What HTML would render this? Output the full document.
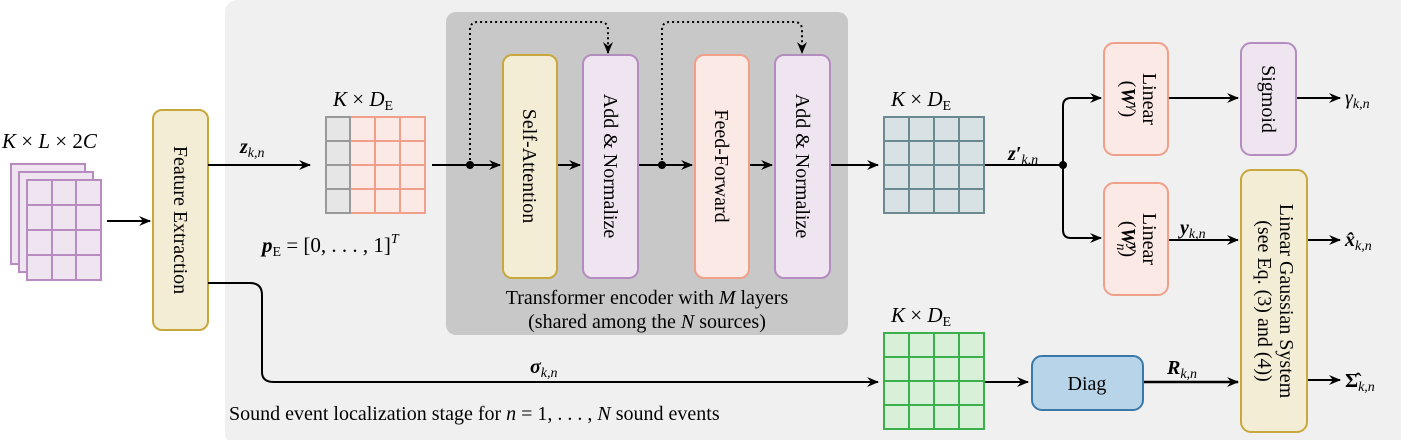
<!DOCTYPE html><html><head><style>body{margin:0;background:#fff}svg{display:block;font-family:"Liberation Serif",serif}</style></head><body>
<svg width="1401" height="440" viewBox="0 0 1401 440" xmlns="http://www.w3.org/2000/svg">
<defs><marker id="a" markerWidth="12" markerHeight="10" refX="11" refY="5" orient="auto" markerUnits="userSpaceOnUse"><path d="M0,0 L12,5 L0,10 L4,5z" fill="#000"/></marker>
<pattern id="g" width="25" height="24" patternUnits="userSpaceOnUse"><path d="M0,0H25M0,0V24" fill="none"/></pattern></defs>
<rect x="225" y="0" width="1190" height="445" rx="12" fill="#f0f0f0"/>
<rect x="446" y="12" width="402" height="323" rx="10" fill="#c8c8c8"/>
<g font-size="21">
<text x="2" y="148" font-style="italic">K <tspan font-style="normal">× </tspan>L<tspan font-style="normal"> × 2</tspan>C</text>
</g>
<!-- input stack -->
<g stroke="#b88cc0" stroke-width="2" fill="#efe5f0">
<rect x="11" y="164" width="74" height="100"/><rect x="19" y="172" width="74" height="100"/><rect x="27" y="180" width="74" height="100"/>
<path d="M52,180V280M76,180V280M27,205H101M27,230H101M27,255H101" fill="none"/>
</g>
<line x1="107" y1="221" x2="150" y2="221" stroke="#000" stroke-width="2" marker-end="url(#a)"/>
<rect x="153" y="110" width="55" height="220" rx="9" fill="#f3edd6" stroke="#c8a83c" stroke-width="2"/>
<text transform="translate(174,220) rotate(90)" font-size="20" text-anchor="middle">Feature Extraction</text>
<line x1="208" y1="165" x2="310" y2="165" stroke="#000" stroke-width="2" marker-end="url(#a)"/>
<text x="240" y="153" font-size="20" font-weight="bold" font-style="italic">z<tspan font-size="14" font-weight="normal" dy="4">k,n</tspan></text>
<!-- matrix 1 -->
<rect x="350" y="117" width="75" height="96" fill="#fbe9e6" stroke="#f0a08a" stroke-width="2"/>
<path d="M375,117V213M400,117V213M350,141H425M350,165H425M350,189H425" stroke="#f0a08a" stroke-width="2"/>
<rect x="326" y="117" width="24" height="96" fill="#e6e6e6" stroke="#999" stroke-width="2"/>
<path d="M326,141H350M326,165H350M326,189H350" stroke="#999" stroke-width="2"/>
<text x="333" y="106" font-size="21" font-style="italic">K <tspan font-style="normal">× </tspan>D<tspan font-size="14" font-style="normal" dy="4">E</tspan></text>
<text x="262" y="252" font-size="21"><tspan font-weight="bold" font-style="italic">p</tspan><tspan font-size="14" dy="4">E</tspan><tspan dy="-4"> = [0, . . . , 1]</tspan><tspan font-size="14" dy="-9" font-style="italic">T</tspan></text>
<!-- transformer -->
<g stroke="#000" stroke-width="2" fill="none">
<line x1="432" y1="165" x2="500" y2="165" marker-end="url(#a)"/>
<line x1="557" y1="165" x2="580" y2="165" marker-end="url(#a)"/>
<line x1="638" y1="165" x2="692" y2="165" marker-end="url(#a)"/>
<line x1="749" y1="165" x2="772" y2="165" marker-end="url(#a)"/>
<line x1="830" y1="165" x2="878" y2="165" marker-end="url(#a)"/>
<path d="M470,165V30Q470,22 478,22H600Q608,22 608,30V53" stroke-dasharray="2,3" marker-end="url(#a)"/>
<path d="M662,165V30Q662,22 670,22H794Q802,22 802,30V53" stroke-dasharray="2,3" marker-end="url(#a)"/>
</g>
<circle cx="470" cy="165" r="4"/><circle cx="662" cy="165" r="4"/>
<rect x="503" y="55" width="54" height="223" rx="9" fill="#f3edd6" stroke="#c8a83c" stroke-width="2"/>
<rect x="583" y="55" width="55" height="223" rx="9" fill="#efe5f0" stroke="#b48cc0" stroke-width="2"/>
<rect x="695" y="55" width="54" height="223" rx="9" fill="#fbe9e6" stroke="#f0a08a" stroke-width="2"/>
<rect x="775" y="55" width="55" height="223" rx="9" fill="#efe5f0" stroke="#b48cc0" stroke-width="2"/>
<g font-size="20" text-anchor="middle">
<text transform="translate(523,166) rotate(90)">Self-Attention</text>
<text transform="translate(604,166) rotate(90)">Add &amp; Normalize</text>
<text transform="translate(715,166) rotate(90)">Feed-Forward</text>
<text transform="translate(796,166) rotate(90)">Add &amp; Normalize</text>
<text x="647" y="304">Transformer encoder with <tspan font-style="italic">M</tspan> layers</text>
<text x="647" y="328">(shared among the <tspan font-style="italic">N</tspan> sources)</text>
</g>
<!-- matrix 2 -->
<rect x="884" y="117" width="100" height="96" fill="#d8e2e4" stroke="#6a8a90" stroke-width="2"/>
<path d="M909,117V213M934,117V213M959,117V213M884,141H984M884,165H984M884,189H984" stroke="#6a8a90" stroke-width="2"/>
<text x="891" y="106" font-size="21" font-style="italic">K <tspan font-style="normal">× </tspan>D<tspan font-size="14" font-style="normal" dy="4">E</tspan></text>
<text x="1008" y="160" font-size="20" font-weight="bold" font-style="italic">z′<tspan font-size="14" font-weight="normal" dy="4">k,n</tspan></text>
<g stroke="#000" stroke-width="2" fill="none">
<path d="M985,165H1063"/>
<path d="M1063,165V106Q1063,98 1071,98H1101" marker-end="url(#a)"/>
<path d="M1063,165V230Q1063,238 1071,238H1101" marker-end="url(#a)"/>
<line x1="1168" y1="98" x2="1238" y2="98" marker-end="url(#a)"/>
<line x1="1296" y1="98" x2="1340" y2="98" marker-end="url(#a)"/>
<line x1="1168" y1="240" x2="1238" y2="240" marker-end="url(#a)"/>
<line x1="1307" y1="240" x2="1340" y2="240" marker-end="url(#a)"/>
<line x1="1307" y1="380" x2="1340" y2="380" marker-end="url(#a)"/>
<line x1="1143" y1="382" x2="1238" y2="382" marker-end="url(#a)" stroke-width="2.5"/>
<line x1="985" y1="382" x2="1028" y2="382" marker-end="url(#a)"/>
<path d="M208,283H250Q262,283 262,295V372Q262,382 274,382H878" marker-end="url(#a)"/>
</g>
<circle cx="1063" cy="165" r="4"/>
<rect x="1104" y="43" width="64" height="112" rx="10" fill="#fbe9e6" stroke="#f0a08a" stroke-width="2"/>
<rect x="1104" y="183" width="64" height="112" rx="10" fill="#fbe9e6" stroke="#f0a08a" stroke-width="2"/>
<rect x="1241" y="43" width="55" height="112" rx="10" fill="#efe5f0" stroke="#b48cc0" stroke-width="2"/>
<rect x="1241" y="170" width="66" height="262" rx="10" fill="#f3edd6" stroke="#c8a83c" stroke-width="2"/>
<rect x="1032" y="356" width="111" height="54" rx="10" fill="#b8d4e8" stroke="#3a78a8" stroke-width="2"/>
<g font-size="20" text-anchor="middle">
<text transform="translate(1143,99) rotate(90)">Linear</text>
<text transform="translate(1122,99) rotate(90)">(<tspan font-weight="bold" font-style="italic">W</tspan><tspan font-size="14" dy="-7" font-style="italic">γ</tspan><tspan dy="7">)</tspan></text>
<text transform="translate(1143,239) rotate(90)">Linear</text>
<text transform="translate(1122,239) rotate(90)">(<tspan font-weight="bold" font-style="italic">W</tspan><tspan font-size="14" dy="-7" font-weight="bold" font-style="italic">y</tspan><tspan font-size="14" dy="12" dx="-8" font-style="italic">n</tspan><tspan dy="-5">)</tspan></text>
<text transform="translate(1262,99) rotate(90)">Sigmoid</text>
<text transform="translate(1280,301) rotate(90)">Linear Gaussian System</text>
<text transform="translate(1258,301) rotate(90)">(see Eq. (3) and (4))</text>
<text x="1087" y="390">Diag</text>
</g>
<g font-size="20" font-style="italic">
<text x="1345" y="104">γ<tspan font-size="14" dy="4">k,n</tspan></text>
<text x="1345" y="246" font-weight="bold">x̂<tspan font-size="14" font-weight="normal" dy="4">k,n</tspan></text>
<text x="1345" y="387" font-weight="bold" font-style="normal">Σ̂<tspan font-size="14" font-weight="normal" font-style="italic" dy="4">k,n</tspan></text>
<text x="1180" y="234" font-weight="bold">y<tspan font-size="14" font-weight="normal" dy="4">k,n</tspan></text>
<text x="1167" y="374" font-weight="bold">R<tspan font-size="14" font-weight="normal" dy="4">k,n</tspan></text>
<text x="530" y="373" font-weight="bold">σ<tspan font-size="14" font-weight="normal" dy="4">k,n</tspan></text>
</g>
<!-- green matrix -->
<rect x="884" y="333" width="100" height="96" fill="#d8f0d8" stroke="#3ab04a" stroke-width="2"/>
<path d="M909,333V429M934,333V429M959,333V429M884,357H984M884,381H984M884,405H984" stroke="#3ab04a" stroke-width="2"/>
<text x="891" y="322" font-size="21" font-style="italic">K <tspan font-style="normal">× </tspan>D<tspan font-size="14" font-style="normal" dy="4">E</tspan></text>
<text x="229" y="420" font-size="20">Sound event localization stage for <tspan font-style="italic">n</tspan> = 1, . . . , <tspan font-style="italic">N</tspan> sound events</text>
</svg></body></html>
